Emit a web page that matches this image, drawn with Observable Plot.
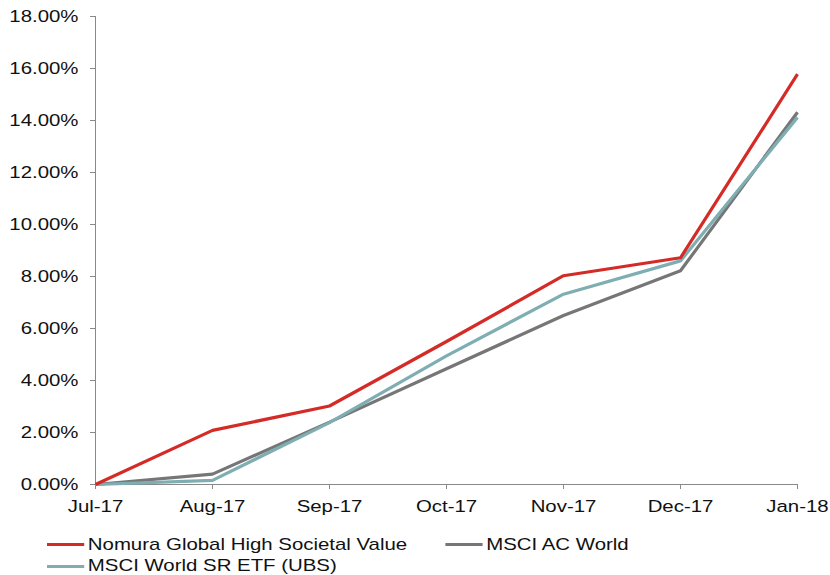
<!DOCTYPE html>
<html><head><meta charset="utf-8">
<script src="https://cdn.jsdelivr.net/npm/d3@7"></script>
<script src="https://cdn.jsdelivr.net/npm/@observablehq/plot@0.6"></script>
<style>
body{margin:0;background:#fff;font-family:"Liberation Sans",Arial,sans-serif;}
#chart{width:830px;}
#chart svg{display:block;}
.legend{display:flex;flex-wrap:wrap;width:664px;margin-left:47px;transform:scaleX(1.2);transform-origin:0 0;padding-top:4px;font-size:17px;color:#111;}
.item{width:332px;display:flex;align-items:center;height:21.5px;white-space:nowrap;}
.sw{width:31px;height:3px;margin-right:3px;flex:none;}
</style></head><body><div id="chart"></div>
<script>
const months = ["Jul-17","Aug-17","Sep-17","Oct-17","Nov-17","Dec-17","Jan-18"];
const nomura = [0, 2.08, 3.02, 5.5, 8.03, 8.72, 15.78];
const acwi   = [0, 0.4, 2.4, 4.45, 6.5, 8.22, 14.32];
const ubs    = [0, 0.16, 2.38, 4.95, 7.32, 8.6, 14.12];
const seriesNames = ["Nomura Global High Societal Value", "MSCI AC World", "MSCI World SR ETF (UBS)"];
const seriesColors = ["#d42b27", "#767676", "#7eadb2"];
const yTicks = [0, 2, 4, 6, 8, 10, 12, 14, 16, 18];

const seriesValues = [nomura, acwi, ubs];
const rows = [];
seriesValues.forEach((vals, si) => vals.forEach((v, i) => rows.push({month: months[i], value: v, series: seriesNames[si]})));
const drawOrder = [1, 2, 0];

const plot = Plot.plot({
  width: 830, height: 530,
  marginLeft: 95, marginRight: 33, marginTop: 16, marginBottom: 46,
  style: {fontFamily: "'Liberation Sans', Arial, sans-serif", fontSize: "17px", color: "#111", background: "#fff"},
  x: {type: "point", domain: months, padding: 0, label: null},
  y: {domain: [0, 18], label: null},
  marks: [
    Plot.axisY(yTicks, {tickSize: 5, tickPadding: 12, stroke: "#898989", tickFormat: d => d.toFixed(2) + "%", label: null}),
    Plot.axisX(months, {tickSize: 5, tickPadding: 10, stroke: "#898989", label: null}),
    Plot.ruleX([months[0]], {stroke: "#898989"}),
    Plot.ruleY([0], {stroke: "#898989"}),
    ...drawOrder.map(si => Plot.line(rows.filter(r => r.series === seriesNames[si]), {
      x: "month", y: "value", stroke: seriesColors[si], strokeWidth: 3.2, strokeLinejoin: "miter", strokeLinecap: "butt"
    }))
  ]
});
document.getElementById("chart").appendChild(plot);

// horizontally widen tick labels to match the reference's stretched type
plot.querySelectorAll('g[aria-label$="tick label"] text').forEach(t => {
  const tr = t.getAttribute("transform");
  if (tr) t.setAttribute("transform", tr + " scale(1.2,1)");
  else {
    const x = +t.getAttribute("x") || 0;
    t.setAttribute("transform", `translate(${x},0) scale(1.2,1) translate(${-x},0)`);
  }
});

const legend = document.createElement("div");
legend.className = "legend";
seriesNames.forEach((name, i) => {
  const item = document.createElement("div");
  item.className = "item";
  const sw = document.createElement("span");
  sw.className = "sw";
  sw.style.background = seriesColors[i];
  const lab = document.createElement("span");
  lab.textContent = name;
  item.appendChild(sw); item.appendChild(lab);
  legend.appendChild(item);
});
document.getElementById("chart").appendChild(legend);
</script>
</body></html>
